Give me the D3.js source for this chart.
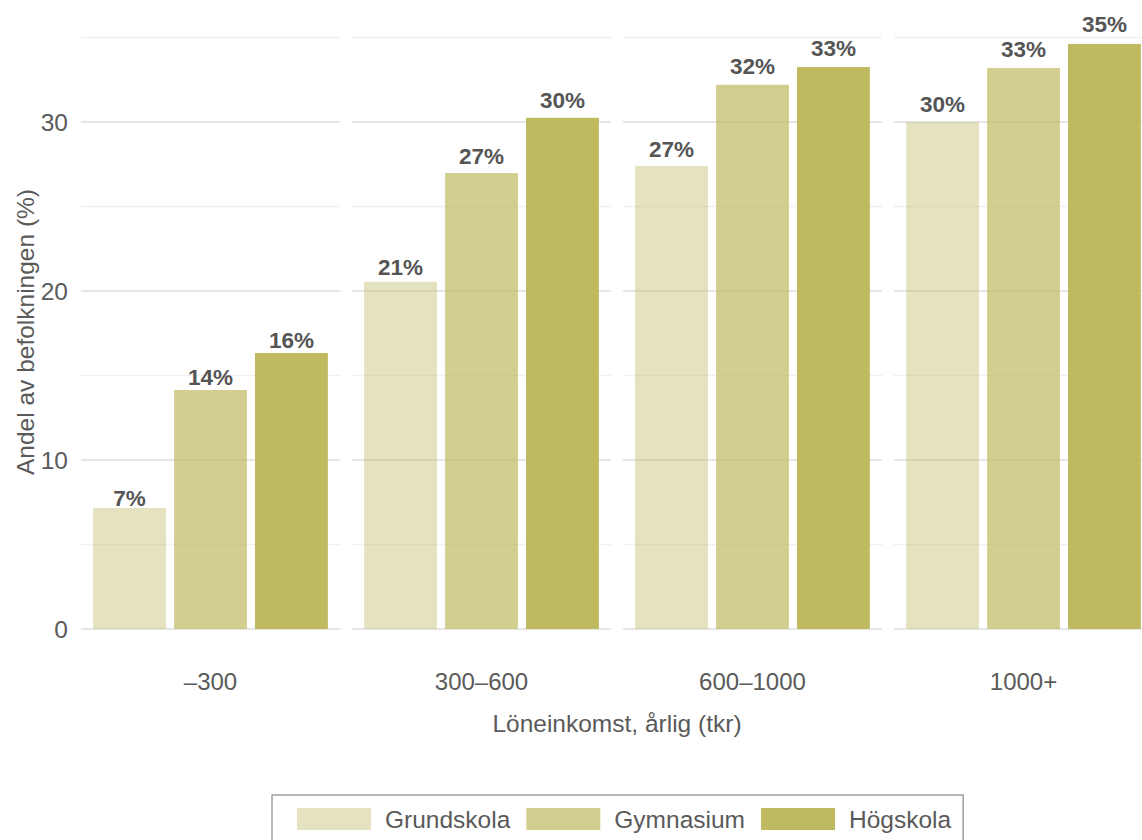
<!DOCTYPE html>
<html>
<head>
<meta charset="utf-8">
<script src="https://cdn.jsdelivr.net/npm/d3@7"></script>
<style>
  html, body { margin: 0; padding: 0; background: #ffffff; }
  svg { display: block; font-family: "Liberation Sans", Arial, Helvetica, sans-serif; }
</style>
</head>
<body>
<svg id="chart" width="1142" height="840"></svg>
<script>
// ---- data ----
const categories = ["\u2013300", "300\u2013600", "600\u20131000", "1000+"];
const seriesNames = ["Grundskola", "Gymnasium", "H\u00f6gskola"];
const grundskola = [7.16, 20.55, 27.4, 30.0];
const gymnasium  = [14.14, 26.98, 32.2, 33.2];
const hogskola   = [16.33, 30.25, 33.25, 34.62];
const yTicks = [0, 10, 20, 30];
const yMinorTicks = [5, 15, 25, 35];
const yTitle = "Andel av befolkningen (%)";
const xTitle = "L\u00f6neinkomst, \u00e5rlig (tkr)";

const seriesValues = [grundskola, gymnasium, hogskola];
const baseColor = "#bfb95f";
const seriesOpacity = [0.4, 0.7, 1.0];

const rows = [];
categories.forEach((c, i) => {
  seriesNames.forEach((s, j) => rows.push({cat: c, series: s, value: seriesValues[j][i], j}));
});

const svg = d3.select("#chart");
const textColor = "#5a5a5a";

// scales
const y = d3.scaleLinear().domain([0, 35]).range([629, 37.5]);
const xPanel = d3.scaleBand().domain(categories).range([81, 1153]).paddingInner(12 / 271);
const xBar = d3.scaleBand().domain(seriesNames).range([0, xPanel.bandwidth()])
  .paddingInner(0.1).paddingOuter(0.15);

// panels with gridlines
const panels = svg.selectAll("g.panel").data(categories).join("g")
  .attr("class", "panel")
  .attr("transform", d => `translate(${xPanel(d)},0)`);

panels.selectAll("line.minor").data(yMinorTicks).join("line")
  .attr("class", "minor")
  .attr("x1", 0).attr("x2", xPanel.bandwidth())
  .attr("y1", d => y(d)).attr("y2", d => y(d))
  .attr("stroke", "#f0f0f0").attr("stroke-width", 1.3);

panels.selectAll("line.major").data(yTicks).join("line")
  .attr("class", "major")
  .attr("x1", 0).attr("x2", xPanel.bandwidth())
  .attr("y1", d => y(d)).attr("y2", d => y(d))
  .attr("stroke", "#e6e6e6").attr("stroke-width", 2);

// bars
panels.selectAll("rect.bar").data(c => rows.filter(r => r.cat === c)).join("rect")
  .attr("class", "bar")
  .attr("x", d => xBar(d.series))
  .attr("width", xBar.bandwidth())
  .attr("y", d => y(d.value))
  .attr("height", d => y(0) - y(d.value))
  .attr("fill", baseColor)
  .attr("fill-opacity", d => seriesOpacity[d.j]);

// value labels
panels.selectAll("text.val").data(c => rows.filter(r => r.cat === c)).join("text")
  .attr("class", "val")
  .attr("x", d => xBar(d.series) + xBar.bandwidth() / 2)
  .attr("y", d => y(d.value * 1.02))
  .attr("text-anchor", "middle")
  .attr("font-weight", "bold")
  .attr("font-size", "22.5px")
  .attr("fill", "#555555")
  .text(d => Math.round(d.value) + "%");

// x tick labels
panels.append("text")
  .attr("x", xPanel.bandwidth() / 2)
  .attr("y", 690)
  .attr("text-anchor", "middle")
  .attr("font-size", "24px")
  .attr("fill", textColor)
  .text(d => d);

// y axis tick labels
svg.selectAll("text.ytick").data(yTicks).join("text")
  .attr("class", "ytick")
  .attr("x", 68)
  .attr("y", d => y(d))
  .attr("dy", "0.36em")
  .attr("text-anchor", "end")
  .attr("font-size", "24.5px")
  .attr("fill", textColor)
  .text(d => d);

// axis titles
svg.append("text")
  .attr("transform", "translate(34,332) rotate(-90)")
  .attr("text-anchor", "middle")
  .attr("font-size", "24.5px")
  .attr("fill", textColor)
  .text(yTitle);

svg.append("text")
  .attr("x", (81 + 1153) / 2)
  .attr("y", 732)
  .attr("text-anchor", "middle")
  .attr("font-size", "24.5px")
  .attr("fill", textColor)
  .text(xTitle);

// legend
const legend = svg.append("g");
const legendBox = legend.append("rect")
  .attr("fill", "#ffffff").attr("stroke", "#888888").attr("stroke-width", 1.2);
let lx = 297;
seriesNames.forEach((s, j) => {
  legend.append("rect")
    .attr("x", lx).attr("y", 808).attr("width", 74).attr("height", 22)
    .attr("fill", baseColor).attr("fill-opacity", seriesOpacity[j]);
  const t = legend.append("text")
    .attr("x", lx + 88).attr("y", 819).attr("dy", "0.36em")
    .attr("font-size", "24.5px").attr("fill", textColor)
    .text(s);
  lx = lx + 88 + t.node().getComputedTextLength() + 16;
});
legendBox.attr("x", 272).attr("y", 795).attr("width", lx - 16 + 12 - 272).attr("height", 48);
</script>
</body>
</html>
